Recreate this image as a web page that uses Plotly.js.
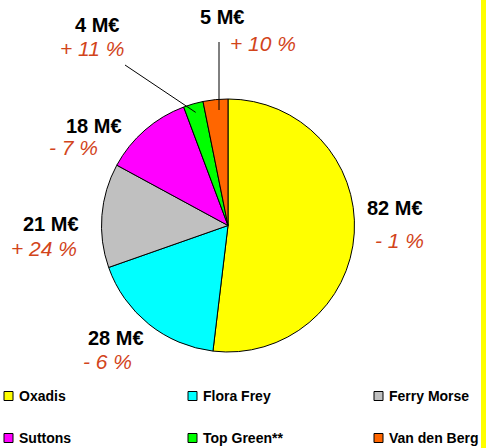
<!DOCTYPE html>
<html>
<head>
<meta charset="utf-8">
<script src="https://cdn.plot.ly/plotly-3.0.1.min.js"></script>
<style>
  html, body { margin: 0; padding: 0; background: #fff; }
  #wrap { position: relative; width: 486px; height: 448px; overflow: hidden; }
  #chart { width: 486px; height: 448px; }
  #bar { position: absolute; left: 481px; top: 0; width: 5px; height: 448px; background: #FFFF00; }
</style>
</head>
<body>
<div id="wrap"><div id="chart"></div><div id="bar"></div></div>
<script>
// ---- data ----
const categories = ["Oxadis", "Flora Frey", "Ferry Morse", "Suttons", "Top Green**", "Van den Berg"];
const values = [82, 28, 21, 18, 4, 5];
const valueLabels = ["82 M€", "28 M€", "21 M€", "18 M€", "4 M€", "5 M€"];
const changeLabels = ["- 1 %", "- 6 %", "+ 24 %", "- 7 %", "+ 11 %", "+ 10 %"];
const colors = ["#FFFF00", "#00FFFF", "#C0C0C0", "#FF00FF", "#00FF00", "#FF6600"];

// ---- layout helpers (pixel positions of the text labels) ----
const W = 486, H = 448;
const cx = 228, cy = 225.5, R = 126.5;
const valuePos = [[395, 208], [115.5, 338], [51, 224], [94, 126], [97, 25], [221.5, 17]];
const changePos = [[399, 240], [107, 361], [44, 248], [73.5, 148], [92, 48.5], [262.5, 43]];
const leaderStart = {4: [125, 65], 5: [219, 42]};

const px = x => x / W;
const py = y => 1 - y / H;

const annotations = [];
categories.forEach((c, i) => {
  annotations.push({
    xref: 'paper', yref: 'paper', x: px(valuePos[i][0]), y: py(valuePos[i][1]),
    xanchor: 'center', yanchor: 'middle', showarrow: false,
    text: '<b>' + valueLabels[i] + '</b>',
    font: {family: 'Liberation Sans, Arial, sans-serif', size: 20, color: '#000'}
  });
  annotations.push({
    xref: 'paper', yref: 'paper', x: px(changePos[i][0]), y: py(changePos[i][1]),
    xanchor: 'center', yanchor: 'middle', showarrow: false,
    text: '<i>' + changeLabels[i] + '</i>',
    font: {family: 'Liberation Sans, Arial, sans-serif', size: 21, color: '#D2441A'}
  });
});

// leader lines from label to slice middle (computed from slice angle)
const total = values.reduce((a, b) => a + b, 0);
const shapes = [];
let cum = 0;
const mids = values.map(v => { const m = (cum + v / 2) / total * 2 * Math.PI; cum += v; return m; });
Object.keys(leaderStart).forEach(k => {
  const i = +k;
  const a = mids[i];
  const rr = R * 0.93;
  let ex = cx + rr * Math.sin(a), ey = cy - rr * Math.cos(a);
  const s = leaderStart[k];
  if (i === 5) { ex = s[0]; ey = 110; }
  shapes.push({type: 'line', xref: 'paper', yref: 'paper',
    x0: px(s[0]), y0: py(s[1]), x1: px(ex), y1: py(ey),
    line: {color: '#000', width: 1}});
});

// custom legend: 3 columns x 2 rows
const legCols = [4, 188, 374];
const legRows = [396, 438];
categories.forEach((c, i) => {
  const col = i % 3, row = Math.floor(i / 3);
  const x0 = legCols[col], yc = legRows[row];
  shapes.push({type: 'rect', xref: 'paper', yref: 'paper',
    x0: px(x0), x1: px(x0 + 9), y0: py(yc + 4.5), y1: py(yc - 4.5),
    fillcolor: colors[i], line: {color: '#000', width: 1}});
  annotations.push({
    xref: 'paper', yref: 'paper', x: px(x0 + 13), y: py(yc),
    xanchor: 'left', yanchor: 'middle', showarrow: false,
    text: '<b>' + c + '</b>',
    font: {family: 'Liberation Sans, Arial, sans-serif', size: 14, color: '#000'}
  });
});

const trace = {
  type: 'pie',
  labels: categories,
  values: values,
  sort: false,
  direction: 'clockwise',
  rotation: 0,
  marker: {colors: colors, line: {color: '#000', width: 1}},
  textinfo: 'none',
  hoverinfo: 'none',
  showlegend: false,
  domain: {x: [px(cx - R), px(cx + R)], y: [py(cy + R), py(cy - R)]}
};

const layout = {
  width: W, height: H,
  margin: {l: 0, r: 0, t: 0, b: 0},
  paper_bgcolor: '#fff',
  showlegend: false,
  annotations: annotations,
  shapes: shapes
};

Plotly.newPlot('chart', [trace], layout, {staticPlot: true, displayModeBar: false});
</script>
</body>
</html>
